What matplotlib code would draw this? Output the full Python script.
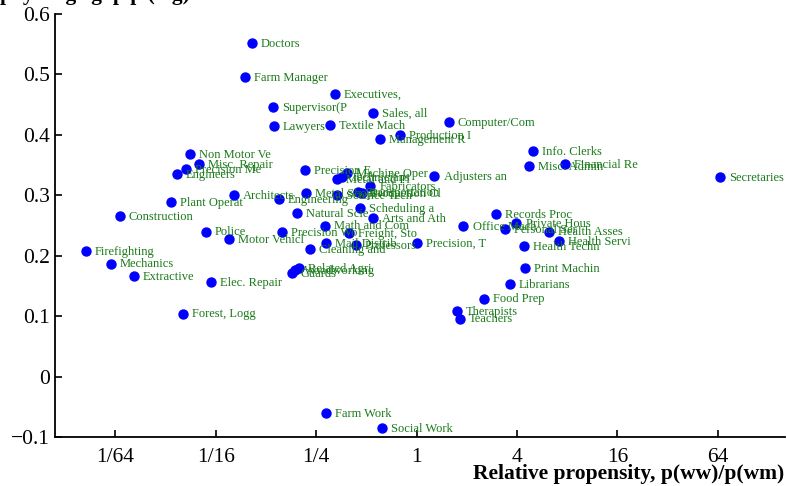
import numpy as np
import matplotlib
matplotlib.use('Agg')
import matplotlib.pyplot as plt

# occupation labels (truncated as in the original)
names = ['Doctors', 'Farm Manager', 'Executives,', 'Supervisor(P', 'Sales, all',
         'Lawyers', 'Textile Mach', 'Computer/Com', 'Production I', 'Management R',
         'Info. Clerks', 'Non Motor Ve', 'Misc. Admin', 'Financial Re', 'Misc. Repair',
         'Precision Me', 'Engineers', 'Precision E', 'Metal and Pl', 'Technicians',
         'Machine Oper', 'Adjusters an', 'Secretaries', 'Plant Operat', 'Architects',
         'Engineering', 'Metal Shops', 'Science Tech', 'Transportation', 'Production Cl',
         'Fabricators', 'Construction', 'Natural Scie', 'Scheduling a', 'Arts and Ath',
         'Records Proc', 'Math and Com', 'Office Mach', 'Private Hous', 'Personal Ser',
         'Health Asses', 'Police', 'Precision Wo', 'Freight, Sto', 'Motor Vehicl',
         'Health Servi', 'Precision, T', 'Mail Distrib', 'Professors', 'Health Techn',
         'Cleaning and', 'Firefighting', 'Mechanics', 'Print Machin', 'Extractive',
         'Related Agri', 'Woodworking', 'Guards', 'Elec. Repair', 'Librarians',
         'Food Prep', 'Therapists', 'Teachers', 'Forest, Logg', 'Farm Work',
         'Social Work']

# relative propensity p(ww)/p(wm)
propensity = [0.103, 0.093, 0.323, 0.137, 0.551,
              0.139, 0.301, 1.558, 0.790, 0.607,
              4.96, 0.0435, 4.69, 7.73, 0.0494,
              0.0412, 0.0364, 0.213, 0.332, 0.356,
              0.381, 1.28, 66.3, 0.0335, 0.080,
              0.149, 0.216, 0.332, 0.444, 0.469,
              0.529, 0.0166, 0.191, 0.456, 0.551,
              3.01, 0.281, 1.91, 3.97, 3.41,
              6.19, 0.0544, 0.155, 0.392, 0.0748,
              7.11, 1.0, 0.285, 0.432, 4.38,
              0.228, 0.0104, 0.0147, 4.44, 0.0202,
              0.196, 0.186, 0.178, 0.0583, 3.61,
              2.55, 1.74, 1.82, 0.0395, 0.285,
              0.616]

# gap value (log)
gap = [0.552, 0.496, 0.468, 0.446, 0.436,
       0.415, 0.416, 0.421, 0.400, 0.393,
       0.373, 0.368, 0.348, 0.352, 0.352,
       0.343, 0.335, 0.342, 0.327, 0.330,
       0.337, 0.332, 0.330, 0.289, 0.300,
       0.294, 0.303, 0.300, 0.305, 0.303,
       0.315, 0.265, 0.270, 0.279, 0.262,
       0.269, 0.250, 0.249, 0.254, 0.244,
       0.240, 0.240, 0.239, 0.237, 0.227,
       0.224, 0.221, 0.221, 0.217, 0.216,
       0.211, 0.207, 0.187, 0.179, 0.166,
       0.179, 0.176, 0.171, 0.156, 0.153,
       0.129, 0.108, 0.096, 0.104, -0.061,
       -0.085]

xtick_vals = [1/64, 1/16, 1/4, 1, 4, 16, 64]
xtick_labels = ['1/64', '1/16', '1/4', '1', '4', '16', '64']
ytick_vals = [-0.1, 0, 0.1, 0.2, 0.3, 0.4, 0.5, 0.6]
ytick_labels = ['\u22120.1', '0', '0.1', '0.2', '0.3', '0.4', '0.5', '0.6']

plt.rcParams['font.family'] = ['Liberation Serif', 'DejaVu Serif']

fig = plt.figure(figsize=(7.87, 4.86), dpi=100)
ax = fig.add_axes([0.070, 0.101, 0.927, 0.870])

ax.scatter(propensity, gap, s=42, color='#0000ff', zorder=3, clip_on=False)
for n, xv, yv in zip(names, propensity, gap):
    ax.annotate(n, (xv, yv), xytext=(6.5, -0.5), textcoords='offset points',
                va='center', ha='left', fontsize=9, color='#1a7a1a')

ax.set_xscale('log', base=2)
ax.set_xlim(2 ** -7.2, 2 ** 7.33)
ax.set_ylim(-0.1, 0.6)
ax.set_xticks(xtick_vals)
ax.set_xticklabels(xtick_labels)
ax.set_yticks(ytick_vals)
ax.set_yticklabels(ytick_labels)
ax.minorticks_off()
ax.tick_params(direction='in', length=5, width=1.2, labelsize=15.5, pad=4)
ax.tick_params(axis='x', pad=8)

for s in ['top', 'right']:
    ax.spines[s].set_visible(False)
for s in ['left', 'bottom']:
    ax.spines[s].set_linewidth(1.3)

fig.text(0.997, 0.005, 'Relative propensity, p(ww)/p(wm)', ha='right', va='bottom',
         fontsize=15.5, fontweight='bold')
# y label sits at the top, mostly cut off as in the original
fig.text(0.0, 1.001, 'pay wage gap p (log)', ha='left', va='baseline',
         fontsize=15.5, fontweight='bold')

fig.savefig('out.png', dpi=100)
